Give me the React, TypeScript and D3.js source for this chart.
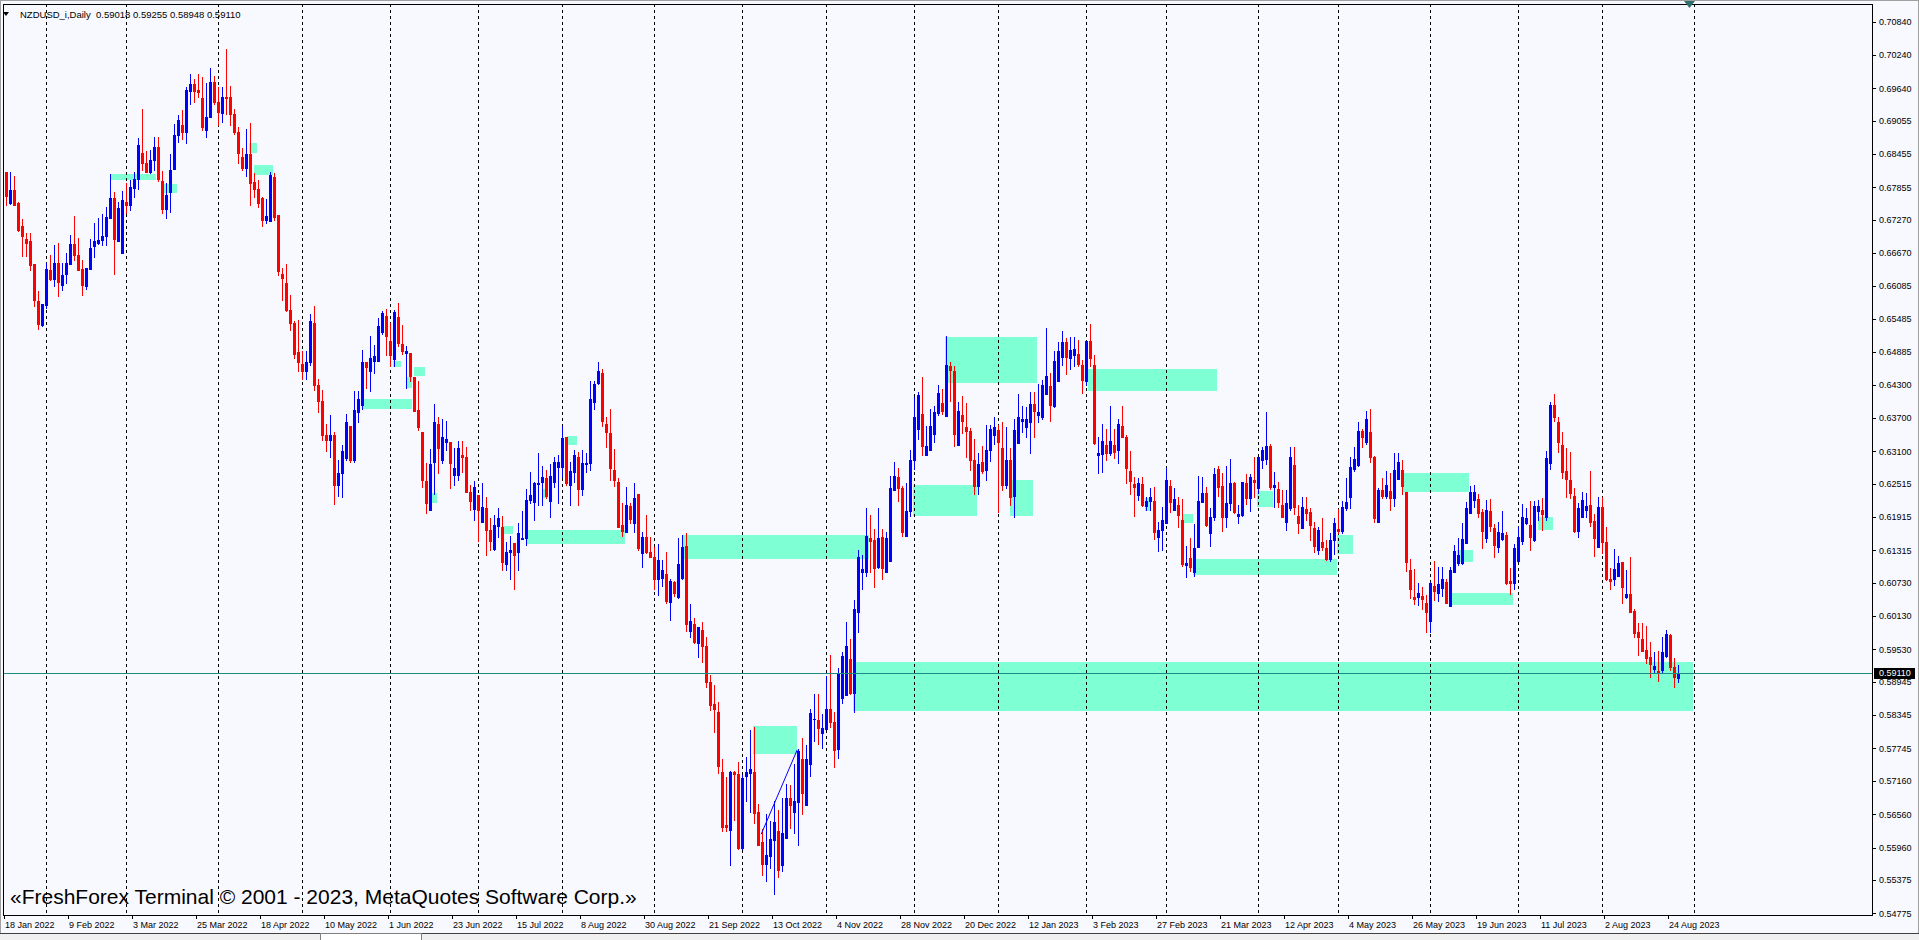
import React from "react";
import * as d3 from "d3";

// ---------- DATA ----------
const symbolTitle = "NZDUSD_i,Daily";
const watermark = "«FreshForex Terminal © 2001 - 2023, MetaQuotes Software Corp.»";
const firstDate = "2022-01-18";
const missingDates = ["2022-12-26"];
const futureBars = 4;

const opens = [
  .6813,.6757,.6781,.6757,.6715,.6692,.6688,.6648,.6581,.6538,
  .6574,.6637,.6621,.6650,.6609,.6630,.6648,.6684,.6664,.6638,
  .6607,.6639,.6679,.6686,.6691,.6698,.6731,.6767,.6688,.6667,
  .6759,.6753,.6785,.6800,.6847,.6829,.6814,.6834,.6858,.6797,
  .6747,.6777,.6819,.6879,.6897,.6885,.6960,.6972,.6961,.6946,
  .6888,.6912,.6976,.6940,.6919,.6948,.6948,.6918,.6885,.6841,
  .6820,.6846,.6795,.6783,.6766,.6727,.6724,.6805,.6735,.6629,
  .6613,.6565,.6542,.6488,.6468,.6455,.6470,.6542,.6430,.6400,
  .6340,.6330,.6340,.6250,.6270,.6297,.6356,.6294,.6380,.6393,
  .6471,.6454,.6473,.6473,.6524,.6553,.6509,.6476,.6552,.6503,
  .6487,.6487,.6443,.6384,.6345,.6256,.6205,.6291,.6360,.6294,
  .6327,.6327,.6267,.6267,.6303,.6300,.6237,.6206,.6231,.6183,
  .6208,.6168,.6134,.6176,.6174,.6107,.6129,.6144,.6129,.6152,
  .6153,.6222,.6219,.6251,.6255,.6261,.6221,.6254,.6282,.6282,
  .6336,.6250,.6273,.6300,.6242,.6287,.6288,.6398,.6433,.6451,
  .6360,.6343,.6276,.6255,.6177,.6165,.6211,.6180,.6233,.6126,
  .6155,.6129,.6120,.6079,.6081,.6089,.6038,.6075,.6048,.6082,
  .6139,.5986,.5998,.5964,.5988,.5960,.5895,.5854,.5840,.5732,
  .5636,.5628,.5732,.5728,.5596,.5725,.5730,.5732,.5660,.5606,
  .5566,.5580,.5610,.5625,.5565,.5613,.5686,.5660,.5678,.5756,
  .5673,.5746,.5828,.5826,.5803,.5810,.5846,.5823,.5773,.5865,
  .5870,.5936,.5875,.6021,.6093,.6093,.6153,.6150,.6101,.6155,
  .6093,.6113,.6240,.6263,.6243,.6158,.6202,.6295,.6350,.6377,
  .6303,.6313,.6342,.6379,.6397,.6373,.6463,.6455,.6321,.6375,
  .6353,.6347,.6295,.6248,.6291,.6277,.6312,.6340,.6349,.6315,
  .6250,.6295,.6229,.6325,.6365,.6354,.6363,.6395,.6375,.6372,
  .6413,.6428,.6392,.6437,.6479,.6506,.6478,.6484,.6485,.6466,
  .6437,.6508,.6466,.6303,.6305,.6321,.6306,.6321,.6312,.6356,
  .6335,.6274,.6251,.6231,.6251,.6212,.6220,.6220,.6156,.6168,
  .6181,.6247,.6204,.6213,.6186,.6105,.6118,.6093,.6138,.6219,
  .6235,.6162,.6191,.6278,.6248,.6192,.6216,.6252,.6194,.6195,
  .6252,.6225,.6258,.6243,.6294,.6296,.6320,.6245,.6242,.6213,
  .6183,.6207,.6285,.6193,.6171,.6206,.6200,.6172,.6133,.6147,
  .6135,.6116,.6150,.6170,.6167,.6207,.6228,.6278,.6285,.6347,
  .6327,.6345,.6300,.6183,.6240,.6229,.6239,.6226,.6260,.6276,
  .6237,.6096,.6048,.6048,.6049,.6036,.6005,.6067,.6055,.6064,
  .6075,.6032,.6093,.6108,.6108,.6144,.6199,.6222,.6224,.6201,
  .6153,.6203,.6171,.6137,.6152,.6159,.6077,.6073,.6113,.6149,
  .6180,.6177,.6151,.6203,.6204,.6192,.6288,.6393,.6362,.6321,
  .6274,.6259,.6229,.6167,.6192,.6205,.6213,.6185,.6138,.6209,
  .6146,.6080,.6079,.6086,.6110,.6047,.6053,.6023,.5984,.5972,
  .5952,.5939,.5917,.5914,.5916,.5941,.5979,.5922,.59018,
];
const highs = [
  .6814,.6814,.6806,.6760,.6729,.6703,.6703,.6648,.6598,.6576,
  .6649,.6664,.6682,.6685,.6650,.6667,.6700,.6734,.6695,.6654,
  .6640,.6693,.6722,.6731,.6737,.6751,.6809,.6778,.6760,.6779,
  .6793,.6799,.6814,.6874,.6927,.6851,.6853,.6876,.6877,.6815,
  .6793,.6846,.6900,.6915,.6925,.6967,.6990,.6981,.6989,.6984,
  .6973,.7001,.6987,.6967,.6967,.7035,.6969,.6927,.6894,.6856,
  .6891,.6901,.6811,.6799,.6769,.6764,.6814,.6811,.6735,.6640,
  .6648,.6592,.6545,.6546,.6490,.6490,.6558,.6571,.6440,.6420,
  .6360,.6375,.6345,.6295,.6321,.6377,.6356,.6419,.6418,.6493,
  .6471,.6517,.6502,.6551,.6562,.6566,.6542,.6565,.6577,.6538,
  .6500,.6487,.6443,.6437,.6345,.6288,.6314,.6396,.6372,.6368,
  .6365,.6327,.6315,.6329,.6329,.6318,.6250,.6257,.6231,.6253,
  .6227,.6190,.6195,.6207,.6193,.6146,.6158,.6144,.6180,.6202,
  .6242,.6273,.6255,.6306,.6283,.6276,.6287,.6300,.6304,.6356,
  .6336,.6291,.6312,.6309,.6312,.6306,.6436,.6436,.6470,.6458,
  .6372,.6386,.6314,.6261,.6216,.6246,.6217,.6252,.6233,.6164,
  .6195,.6156,.6138,.6143,.6114,.6129,.6080,.6077,.6153,.6160,
  .6162,.6034,.6010,.5993,.6003,.5976,.5906,.5888,.5858,.5756,
  .5723,.5734,.5734,.5750,.5726,.5760,.5808,.5814,.5674,.5630,
  .5656,.5643,.5680,.5663,.5686,.5710,.5708,.5746,.5773,.5793,
  .5780,.5846,.5873,.5873,.5836,.5905,.5943,.5841,.5920,.5948,
  .6003,.5972,.6042,.6132,.6123,.6207,.6195,.6170,.6208,.6170,
  .6164,.6265,.6290,.6280,.6247,.6253,.6313,.6408,.6417,.6443,
  .6355,.6387,.6392,.6429,.6423,.6517,.6470,.6463,.6399,.6410,
  .6397,.6352,.6332,.6307,.6320,.6357,.6358,.6372,.6357,.6363,
  .6353,.6315,.6368,.6413,.6392,.6389,.6416,.6417,.6432,.6438,
  .6532,.6451,.6490,.6506,.6527,.6514,.6515,.6515,.6511,.6475,
  .6509,.6539,.6484,.6335,.6360,.6350,.6392,.6350,.6368,.6392,
  .6339,.6310,.6264,.6261,.6264,.6228,.6243,.6245,.6183,.6209,
  .6279,.6258,.6243,.6228,.6224,.6139,.6153,.6179,.6265,.6264,
  .6246,.6207,.6279,.6284,.6270,.6283,.6296,.6255,.6213,.6255,
  .6269,.6269,.6300,.6300,.6318,.6380,.6323,.6273,.6254,.6240,
  .6241,.6317,.6317,.6213,.6227,.6227,.6207,.6183,.6173,.6190,
  .6150,.6163,.6189,.6206,.6221,.6261,.6299,.6317,.6362,.6351,
  .6383,.6386,.6302,.6243,.6261,.6274,.6271,.6307,.6307,.6294,
  .6237,.6116,.6098,.6073,.6066,.6051,.6075,.6112,.6101,.6102,
  .6079,.6101,.6142,.6153,.6180,.6219,.6247,.6249,.6233,.6206,
  .6222,.6224,.6179,.6182,.6203,.6165,.6099,.6143,.6173,.6215,
  .6207,.6220,.6220,.6223,.6225,.6311,.6398,.6413,.6371,.6344,
  .6316,.6309,.6243,.6217,.6237,.6235,.6275,.6197,.6228,.6227,
  .6173,.6100,.6134,.6122,.6111,.6096,.6120,.6025,.6000,.6000,
  .5995,.5966,.5949,.5951,.5976,.5988,.5981,.5937,.59255,
];
const lows = [
  .6753,.6756,.6753,.6706,.6661,.6661,.6637,.6571,.6530,.6536,
  .6568,.6619,.6608,.6590,.6600,.6613,.6648,.6654,.6636,.6592,
  .6602,.6639,.6660,.6684,.6681,.6681,.6731,.6630,.6688,.6667,
  .6740,.6744,.6768,.6783,.6816,.6814,.6811,.6816,.6797,.6740,
  .6730,.6742,.6819,.6867,.6873,.6866,.6936,.6940,.6948,.6888,
  .6876,.6912,.6935,.6897,.6904,.6918,.6897,.6882,.6829,.6816,
  .6806,.6753,.6768,.6751,.6715,.6722,.6724,.6727,.6627,.6582,
  .6562,.6529,.6478,.6455,.6440,.6440,.6465,.6420,.6380,.6330,
  .6310,.6300,.6215,.6230,.6228,.6295,.6291,.6290,.6363,.6386,
  .6424,.6418,.6451,.6472,.6521,.6483,.6463,.6463,.6500,.6485,
  .6424,.6436,.6383,.6348,.6246,.6198,.6205,.6233,.6270,.6288,
  .6312,.6244,.6249,.6259,.6273,.6236,.6205,.6186,.6149,.6183,
  .6123,.6133,.6133,.6156,.6096,.6096,.6080,.6061,.6096,.6152,
  .6141,.6216,.6186,.6213,.6213,.6225,.6192,.6246,.6216,.6264,
  .6249,.6214,.6255,.6213,.6231,.6272,.6276,.6386,.6431,.6356,
  .6317,.6259,.6247,.6173,.6158,.6165,.6180,.6165,.6133,.6102,
  .6127,.6120,.6061,.6051,.6068,.6036,.6006,.6049,.6045,.6080,
  .5986,.5976,.5965,.5940,.5930,.5886,.5843,.5804,.5730,.5625,
  .5626,.5565,.5646,.5593,.5593,.5680,.5660,.5640,.5600,.5546,
  .5536,.5560,.5513,.5543,.5553,.5613,.5632,.5623,.5600,.5656,
  .5673,.5725,.5788,.5783,.5776,.5810,.5814,.5741,.5758,.5856,
  .5870,.5873,.5841,.5985,.6062,.6085,.6093,.6065,.6100,.6080,
  .6093,.6113,.6240,.6220,.6157,.6158,.6193,.6278,.6332,.6303,
  .6303,.6313,.6327,.6375,.6377,.6373,.6401,.6320,.6321,.6343,
  .6300,.6277,.6233,.6233,.6270,.6259,.6292,.6323,.6201,.6240,
  .6243,.6213,.6192,.6325,.6344,.6335,.6306,.6336,.6362,.6368,
  .6413,.6365,.6389,.6437,.6466,.6449,.6458,.6464,.6463,.6415,
  .6430,.6463,.6323,.6271,.6273,.6295,.6303,.6297,.6289,.6335,
  .6253,.6233,.6194,.6222,.6211,.6204,.6204,.6152,.6131,.6132,
  .6181,.6201,.6204,.6174,.6104,.6084,.6095,.6085,.6138,.6219,
  .6175,.6140,.6187,.6230,.6167,.6173,.6204,.6199,.6181,.6193,
  .6215,.6203,.6227,.6234,.6279,.6287,.6242,.6210,.6210,.6192,
  .6168,.6205,.6197,.6162,.6171,.6186,.6151,.6129,.6125,.6132,
  .6114,.6113,.6124,.6162,.6162,.6204,.6207,.6275,.6283,.6318,
  .6323,.6290,.6183,.6183,.6225,.6225,.6204,.6211,.6260,.6233,
  .6095,.6045,.6034,.6033,.6026,.5985,.5985,.6042,.6041,.6049,
  .6036,.6032,.6093,.6105,.6107,.6144,.6199,.6210,.6192,.6135,
  .6147,.6167,.6119,.6129,.6150,.6071,.6053,.6061,.6113,.6143,
  .6179,.6133,.6149,.6186,.6168,.6186,.6278,.6365,.6309,.6261,
  .6227,.6225,.6165,.6156,.6191,.6192,.6175,.6122,.6138,.6127,
  .6078,.6061,.6069,.6086,.6036,.6045,.6021,.5976,.5943,.5951,
  .5928,.5904,.5910,.5896,.5913,.5940,.5916,.5886,.58948,
];
const closes = [
  .6770,.6781,.6754,.6709,.6698,.6686,.6646,.6583,.6540,.6576,
  .6639,.6621,.6650,.6615,.6628,.6650,.6684,.6664,.6636,.6609,
  .6640,.6677,.6688,.6691,.6698,.6733,.6767,.6692,.6748,.6763,
  .6753,.6786,.6800,.6862,.6829,.6814,.6835,.6859,.6800,.6747,
  .6771,.6817,.6880,.6907,.6885,.6961,.6972,.6960,.6958,.6894,
  .6912,.6976,.6940,.6921,.6948,.6947,.6918,.6886,.6847,.6820,
  .6845,.6794,.6783,.6757,.6727,.6734,.6808,.6732,.6634,.6622,
  .6564,.6542,.6485,.6470,.6455,.6470,.6545,.6430,.6400,.6340,
  .6330,.6340,.6250,.6270,.6311,.6362,.6294,.6384,.6404,.6470,
  .6461,.6478,.6482,.6536,.6560,.6517,.6484,.6561,.6505,.6490,
  .6491,.6446,.6383,.6354,.6259,.6217,.6287,.6362,.6315,.6335,
  .6333,.6289,.6280,.6316,.6300,.6237,.6221,.6246,.6204,.6209,
  .6168,.6149,.6177,.6189,.6111,.6128,.6132,.6123,.6162,.6154,
  .6223,.6231,.6253,.6252,.6264,.6230,.6265,.6291,.6291,.6334,
  .6252,.6274,.6303,.6242,.6288,.6288,.6405,.6431,.6455,.6365,
  .6345,.6280,.6259,.6174,.6167,.6214,.6188,.6225,.6136,.6155,
  .6129,.6120,.6080,.6114,.6096,.6041,.6077,.6055,.6107,.6138,
  .5998,.6005,.5966,.5993,.5960,.5894,.5853,.5845,.5743,.5633,
  .5633,.5732,.5728,.5596,.5721,.5732,.5738,.5658,.5601,.5566,
  .5583,.5612,.5642,.5556,.5623,.5686,.5673,.5680,.5770,.5694,
  .5756,.5838,.5828,.5812,.5811,.5846,.5823,.5772,.5910,.5941,
  .5960,.5874,.6026,.6120,.6098,.6157,.6148,.6100,.6153,.6099,
  .6153,.6243,.6265,.6243,.6165,.6202,.6295,.6372,.6411,.6320,
  .6319,.6355,.6380,.6415,.6383,.6465,.6457,.6341,.6383,.6365,
  .6347,.6295,.6248,.6287,.6275,.6312,.6350,.6353,.6327,.6250,
  .6295,.6228,.6349,.6372,.6369,.6368,.6395,.6383,.6380,.6429,
  .6446,.6393,.6473,.6491,.6506,.6479,.6493,.6494,.6467,.6439,
  .6508,.6478,.6324,.6306,.6329,.6306,.6329,.6309,.6359,.6336,
  .6280,.6257,.6245,.6252,.6213,.6220,.6228,.6165,.6168,.6186,
  .6258,.6219,.6224,.6195,.6107,.6108,.6102,.6135,.6220,.6235,
  .6177,.6192,.6269,.6246,.6192,.6217,.6252,.6201,.6197,.6254,
  .6225,.6264,.6255,.6299,.6312,.6320,.6245,.6249,.6219,.6192,
  .6217,.6299,.6210,.6181,.6209,.6199,.6177,.6140,.6168,.6138,
  .6116,.6150,.6181,.6166,.6209,.6219,.6282,.6296,.6347,.6336,
  .6368,.6299,.6190,.6241,.6229,.6249,.6226,.6276,.6290,.6248,
  .6111,.6062,.6044,.6055,.6044,.6021,.6073,.6059,.6071,.6080,
  .6037,.6096,.6130,.6123,.6152,.6207,.6237,.6237,.6199,.6167,
  .6205,.6175,.6141,.6164,.6163,.6073,.6072,.6135,.6156,.6191,
  .6189,.6156,.6211,.6212,.6197,.6297,.6393,.6371,.6326,.6272,
  .6260,.6235,.6167,.6207,.6222,.6211,.6183,.6154,.6210,.6146,
  .6080,.6077,.6097,.6108,.6066,.6053,.6021,.5983,.5976,.5951,
  .5938,.5927,.5923,.5911,.5949,.5981,.5922,.5904,.59110,
];

const priceTicks = [
  0.70840, 0.70240, 0.69640, 0.69055, 0.68455, 0.67855, 0.67270, 0.66670,
  0.66085, 0.65485, 0.64885, 0.64300, 0.63700, 0.63100, 0.62515, 0.61915,
  0.61315, 0.60730, 0.60130, 0.59530, 0.58945, 0.58345, 0.57745, 0.57160,
  0.56560, 0.55960, 0.55375, 0.54775,
];
const labelEvery = 16;

// zones: [fromBar, toBar, topPrice, bottomPrice]
const zones = [
  [26, 37.5, 0.6810, 0.6798], [39.3, 42.7, 0.6792, 0.6776],
  [60.8, 62.7, 0.6866, 0.6848], [62, 66.7, 0.6826, 0.6808],
  [88.9, 101.4, 0.6404, 0.6386], [96.8, 98.75, 0.6472, 0.6462],
  [102, 104.75, 0.6462, 0.6446], [100, 101.5, 0.6444, 0.6424],
  [106, 107.75, 0.6234, 0.6217], [124.2, 126.7, 0.6175, 0.6161],
  [130, 154.75, 0.6168, 0.6143], [140.2, 142.75, 0.6338, 0.6321],
  [134, 135.2, 0.6242, 0.6226], [169, 215.75, 0.6160, 0.6115],
  [186.75, 197.75, 0.5815, 0.5765], [226.7, 242.7, 0.6250, 0.6193],
  [251, 256.75, 0.6258, 0.6193], [234.75, 257.75, 0.6516, 0.6433],
  [211.75, 421.75, 0.5930, 0.5842], [270.5, 302.7, 0.6458, 0.6419],
  [284.75, 286, 0.6226, 0.6203], [294, 296.7, 0.6197, 0.6181],
  [296.8, 332.7, 0.6116, 0.6087], [312.8, 316.8, 0.6239, 0.6210],
  [332.7, 336.7, 0.6159, 0.6125], [349.2, 365.75, 0.6271, 0.6237],
  [362.7, 366.7, 0.6132, 0.6111], [361, 376.7, 0.6055, 0.6033],
  [383, 386.7, 0.6192, 0.6168],
];
const trendLine = [[188.8, 0.5620], [197.8, 0.5772]];

// ---------- helpers ----------
const MONTHS = ["Jan","Feb","Mar","Apr","May","Jun","Jul","Aug","Sep","Oct","Nov","Dec"];
function buildDates(n: number): Date[] {
  const out: Date[] = [];
  const d = new Date(firstDate + "T00:00:00Z");
  while (out.length < n) {
    const wd = d.getUTCDay();
    const iso = d.toISOString().slice(0, 10);
    if (wd !== 0 && wd !== 6 && !missingDates.includes(iso)) out.push(new Date(d));
    d.setUTCDate(d.getUTCDate() + 1);
  }
  return out;
}

const W = 1919, H = 940;
const PL = 3, PT = 4, PR = 1872, PB = 915;
const FONT = "'Liberation Sans', Arial, sans-serif";

export default function App() {
  const n = closes.length;
  const dates = buildDates(n + futureBars);
  const x = d3.scaleLinear().domain([0, 1]).range([6, 10]);
  const y = d3.scaleLinear().domain([0.54775, 0.70840]).range([913.3, 21.7]);
  const last = closes[n - 1];

  const gridBars: number[] = [];
  for (let i = 1; i < dates.length; i++) {
    if (dates[i].getUTCMonth() !== dates[i - 1].getUTCMonth()) gridBars.push(i);
  }
  const labelBars: number[] = [];
  for (let i = 0; i < n; i += labelEvery) labelBars.push(i);
  const fmt = (d: Date) => `${d.getUTCDate()} ${MONTHS[d.getUTCMonth()]} ${d.getUTCFullYear()}`;
  const f5 = (v: number) => v.toFixed(5);

  const tl = d3.line<number[]>().x((p) => x(p[0])).y((p) => y(p[1]));
  const sx = x(n + 2);

  return (
    <div style={{ position: "absolute", left: 0, top: 0, width: W, height: H, overflow: "hidden" }}>
      <svg width={W} height={H} style={{ display: "block" }} shapeRendering="crispEdges">
        <rect x={0} y={0} width={W} height={H} fill="#F8F8FF" />
        <clipPath id="plot"><rect x={PL} y={PT} width={PR - PL} height={PB - PT} /></clipPath>
        <g clipPath="url(#plot)">
          {zones.map((z, i) => (
            <rect key={"z" + i} x={x(z[0])} y={y(z[2])} width={x(z[1]) - x(z[0])}
              height={y(z[3]) - y(z[2])} fill="#7FFFD4" />
          ))}
          {gridBars.map((b) => (
            <line key={"g" + b} x1={x(b) + 0.5} x2={x(b) + 0.5} y1={PT} y2={PB}
              stroke="#000" strokeWidth={1} strokeDasharray="3,3" />
          ))}
          {closes.map((c, i) => {
            const o = opens[i], h = highs[i], l = lows[i];
            const cx = Math.round(x(i));
            const col = c >= o ? "#0000FF" : "#FF0000";
            const yh = Math.round(y(h)), yl = Math.round(y(l));
            const yt = Math.round(y(Math.max(o, c))), yb = Math.round(y(Math.min(o, c)));
            return (
              <g key={"c" + i}>
                <rect x={cx} y={yh} width={1} height={Math.max(1, yl - yh + 1)} fill={col} />
                <rect x={cx - 1} y={yt} width={3} height={Math.max(1, yb - yt + 1)} fill={col} />
              </g>
            );
          })}
          <path d={tl(trendLine) || ""} stroke="#0000FF" strokeWidth={1} fill="none" shapeRendering="auto" />
          <line x1={PL} x2={PR} y1={Math.round(y(last)) + 0.5} y2={Math.round(y(last)) + 0.5}
            stroke="#1E8A86" strokeWidth={1} />
        </g>
        {/* frame */}
        <rect x={PL + 0.5} y={PT + 0.5} width={PR - PL} height={PB - PT} fill="none" stroke="#000" />
        <line x1={0.5} x2={0.5} y1={0} y2={H} stroke="#A0A0A0" />
        <line x1={0} x2={W} y1={0.5} y2={0.5} stroke="#A0A0A0" />
        <line x1={W - 0.5} x2={W - 0.5} y1={0} y2={H} stroke="#A0A0A0" />
        {/* price axis */}
        {priceTicks.map((p) => (
          <g key={"p" + p}>
            <line x1={PR} x2={PR + 4} y1={Math.round(y(p)) + 0.5} y2={Math.round(y(p)) + 0.5} stroke="#000" />
            <text x={PR + 7} y={y(p) + 3.3} fontFamily={FONT} fontSize={9} fill="#000">{f5(p)}</text>
          </g>
        ))}
        <rect x={PR + 2} y={Math.round(y(last)) - 5} width={41} height={11} fill="#000" />
        <text x={PR + 7} y={y(last) + 3.5} fontFamily={FONT} fontSize={9} fill="#FFF">{f5(last)}</text>
        {/* time axis */}
        {labelBars.map((b) => (
          <g key={"t" + b}>
            <line x1={x(b) - 1.5} x2={x(b) - 1.5} y1={PB} y2={PB + 4} stroke="#000" />
            <text x={x(b) - 1} y={928} fontFamily={FONT} fontSize={9} fill="#000">{fmt(dates[b])}</text>
          </g>
        ))}
        {/* bottom tab bar */}
        <rect x={0} y={933} width={W} height={7} fill="#F0F0F0" />
        <line x1={0} x2={320} y1={933.5} y2={933.5} stroke="#404040" />
        <line x1={422} x2={W} y1={933.5} y2={933.5} stroke="#404040" />
        <rect x={320.5} y={933.5} width={101} height={7} fill="#FFFFFF" stroke="#808080" />
        {/* header */}
        <path d="M3,12 L9,12 L6,16 Z" fill="#000" shapeRendering="auto" />
        <text x={20} y={17.5} fontFamily={FONT} fontSize={9.5} fill="#000" xmlSpace="preserve">
          {`${symbolTitle}  ${f5(opens[n - 1])} ${f5(highs[n - 1])} ${f5(lows[n - 1])} ${f5(closes[n - 1])}`}
        </text>
        {/* chart shift marker */}
        <path d={`M${sx - 6},1 L${sx + 5},1 L${sx - 0.5},8 Z`} fill="#2F6F6F" shapeRendering="auto" />
        {/* watermark */}
        <text x={10} y={904} fontFamily={FONT} fontSize={21} fill="#000">{watermark}</text>
      </svg>
    </div>
  );
}
